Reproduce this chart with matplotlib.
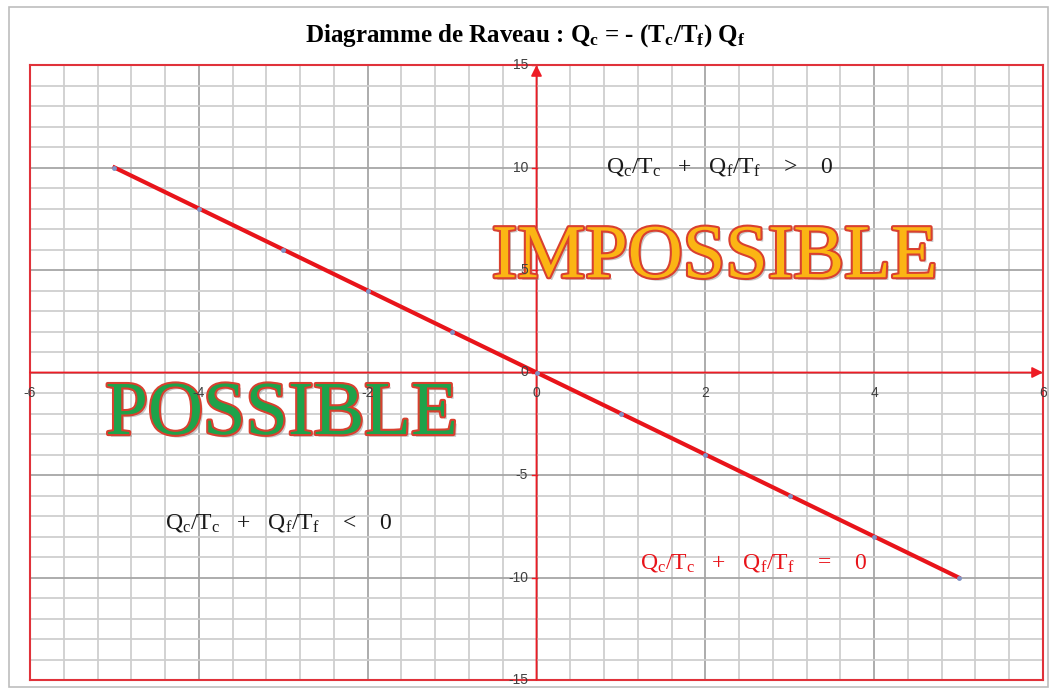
import numpy as np
import matplotlib.pyplot as plt
import matplotlib.patheffects as pe
from matplotlib.patches import Rectangle

plt.rcParams['mathtext.fontset'] = 'custom'
plt.rcParams['mathtext.rm'] = 'Liberation Serif'
plt.rcParams['mathtext.it'] = 'Liberation Serif:italic'
plt.rcParams['mathtext.bf'] = 'Liberation Serif:bold'

# Points de la droite Qc = -(Tc/Tf) Qf
qf = [-5, -4, -3, -2, -1, 0, 1, 2, 3, 4, 5]
qc = [10, 8, 6, 4, 2, 0, -2, -4, -6, -8, -10]

xticks = [-6, -4, -2, 0, 2, 4, 6]
yticks = [-15, -10, -5, 0, 5, 10, 15]

fig = plt.figure(figsize=(10.51, 6.89), dpi=100)
ax = fig.add_axes([30 / 1051, 9 / 689, 1013 / 1051, 615 / 689])
ax.set_xlim(-6, 6)
ax.set_ylim(-15, 15)

# cadre gris du graphique
fig.patches.append(Rectangle((9 / 1051, 2 / 689), 1039 / 1051, 680 / 689,
                             transform=fig.transFigure, fill=False,
                             edgecolor='#bdbdbd', lw=1.2))

# quadrillage
for x in np.arange(-6, 6.01, 0.4):
    major = abs(x / 2 - round(x / 2)) < 1e-6
    ax.axvline(x, color='#a6a6a6' if major else '#cfcfcf', lw=1.3, zorder=0)
for y in range(-15, 16):
    ax.axhline(y, color='#a6a6a6' if y % 5 == 0 else '#cfcfcf', lw=1.3, zorder=0)

for s in ax.spines.values():
    s.set_color('#e0323a')
    s.set_linewidth(1.5)
ax.set_xticks([])
ax.set_yticks([])

# axes avec flèches
ax.annotate('', xy=(0, 15), xytext=(0, -15),
            arrowprops=dict(arrowstyle='-|>', color='#ee1c25', lw=1.3,
                            mutation_scale=16, shrinkA=0, shrinkB=0))
ax.annotate('', xy=(6, 0), xytext=(-6, 0),
            arrowprops=dict(arrowstyle='-|>', color='#ee1c25', lw=1.3,
                            mutation_scale=16, shrinkA=0, shrinkB=0))

ax.plot(qf, qc, color='#e8141a', lw=3, zorder=3)
ax.plot(qf, qc, 'o', color='#7f93c6', ms=2.5, zorder=4)

fig.text(0.5, 0.948, r'Diagramme de Raveau : $\mathbf{Q_c}$ = - (T$\mathbf{_c}$/T$\mathbf{_f}$) Q$\mathbf{_f}$',
         ha='center', va='center', fontsize=18, fontweight='bold',
         family='Liberation Serif')

serif = dict(family='Liberation Serif', fontsize=17, va='center', ha='left')
ax.text(0.82, 10, r'$\mathrm{Q_c/T_c}$   +   $\mathrm{Q_f/T_f}$    >    0',
        color='#1a1a1a', **serif)
ax.text(-4.4, -7.35, r'$\mathrm{Q_c/T_c}$   +   $\mathrm{Q_f/T_f}$    <    0',
        color='#1a1a1a', **serif)
ax.text(1.23, -9.3, r'$\mathrm{Q_c/T_c}$   +   $\mathrm{Q_f/T_f}$    =    0',
        color='#e8141a', **serif)

# grands libellés avec contour rouge et ombre
effets = [pe.SimplePatchShadow(offset=(2, -2), shadow_rgbFace='#888888', alpha=0.45),
          pe.withStroke(linewidth=3, foreground='#d9402f')]
big = dict(family='Liberation Serif', fontsize=55, ha='center', va='center',
           zorder=5, path_effects=effets)
ax.text(2.11, 5.55, 'IMPOSSIBLE', color='#fbb514', **big)
ax.text(-3.02, -2.1, 'POSSIBLE', color='#1ea24a', **big)

# graduations par-dessus les libellés
for x in xticks:
    ax.text(x, -1.0, str(x), ha='center', va='center', fontsize=10,
            color='#404040', family='Liberation Sans', zorder=6)
for y in yticks:
    ax.text(-0.1, y, str(y), ha='right', va='center', fontsize=10,
            color='#404040', family='Liberation Sans', zorder=6)
    ax.plot([-0.05, 0], [y, y], color='#ee1c25', lw=1)

fig.savefig('out.png', dpi=100)
